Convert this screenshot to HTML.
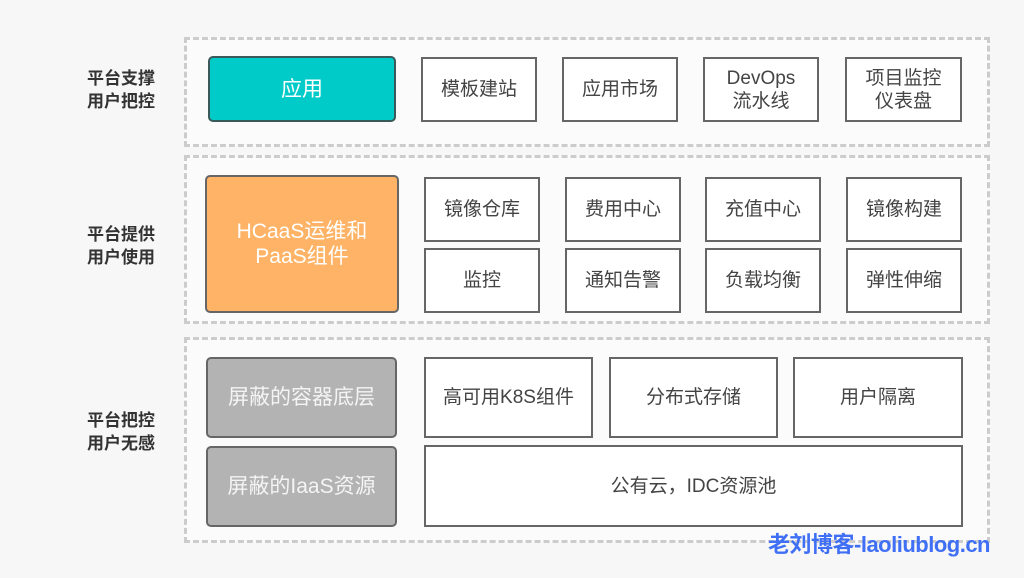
<!DOCTYPE html>
<html><head><meta charset="utf-8"><style>
body{margin:0;width:1024px;height:578px;background:#f7f7f7;position:relative;overflow:hidden;font-family:"Liberation Sans","Noto Sans CJK SC",sans-serif;}
div{position:absolute;box-sizing:border-box;}
.p{border:3px dashed #cccccc;background:#fbfbfb;}
.b{border:2px solid #666;background:#fff;display:flex;align-items:center;justify-content:center;text-align:center;font-size:19px;color:#444;line-height:23px;}
.r{border-radius:5px;color:#fff;font-size:21px;line-height:25px;}
.l{font-weight:bold;font-size:17px;line-height:23px;color:#333;left:87px;}
</style></head><body>
<div class="p" style="left:184px;top:37px;width:806px;height:110px"></div>
<div class="p" style="left:184px;top:155px;width:806px;height:169px"></div>
<div class="p" style="left:184px;top:337px;width:806px;height:206px"></div>

<div class="l" style="top:67px">平台支撑<br>用户把控</div>
<div class="l" style="top:223px">平台提供<br>用户使用</div>
<div class="l" style="top:409px">平台把控<br>用户无感</div>

<div class="b r" style="left:208px;top:56px;width:188px;height:66px;background:#00cbc8;border-color:#3a5a5a">应用</div>
<div class="b" style="left:421px;top:57px;width:116px;height:65px">模板建站</div>
<div class="b" style="left:562px;top:57px;width:116px;height:65px">应用市场</div>
<div class="b" style="left:703px;top:57px;width:116px;height:65px">DevOps<br>流水线</div>
<div class="b" style="left:845px;top:57px;width:117px;height:65px">项目监控<br>仪表盘</div>

<div class="b r" style="left:205px;top:175px;width:194px;height:138px;background:#ffb366">HCaaS运维和<br>PaaS组件</div>
<div class="b" style="left:424px;top:177px;width:116px;height:65px">镜像仓库</div>
<div class="b" style="left:565px;top:177px;width:116px;height:65px">费用中心</div>
<div class="b" style="left:705px;top:177px;width:116px;height:65px">充值中心</div>
<div class="b" style="left:846px;top:177px;width:116px;height:65px">镜像构建</div>
<div class="b" style="left:424px;top:248px;width:116px;height:65px">监控</div>
<div class="b" style="left:565px;top:248px;width:116px;height:65px">通知告警</div>
<div class="b" style="left:705px;top:248px;width:116px;height:65px">负载均衡</div>
<div class="b" style="left:846px;top:248px;width:116px;height:65px">弹性伸缩</div>

<div class="b r" style="left:206px;top:357px;width:191px;height:81px;background:#b3b3b3;color:#f4f4f4">屏蔽的容器底层</div>
<div class="b r" style="left:206px;top:446px;width:191px;height:81px;background:#b3b3b3;color:#f4f4f4">屏蔽的IaaS资源</div>
<div class="b" style="left:424px;top:357px;width:169px;height:81px">高可用K8S组件</div>
<div class="b" style="left:609px;top:357px;width:169px;height:81px">分布式存储</div>
<div class="b" style="left:793px;top:357px;width:170px;height:81px">用户隔离</div>
<div class="b" style="left:424px;top:445px;width:539px;height:82px">公有云，IDC资源池</div>

<div style="left:768px;top:527px;font-size:22px;font-weight:bold;color:#3f6ff5;white-space:nowrap;letter-spacing:-0.5px">老刘博客-laoliublog.cn</div>
</body></html>
